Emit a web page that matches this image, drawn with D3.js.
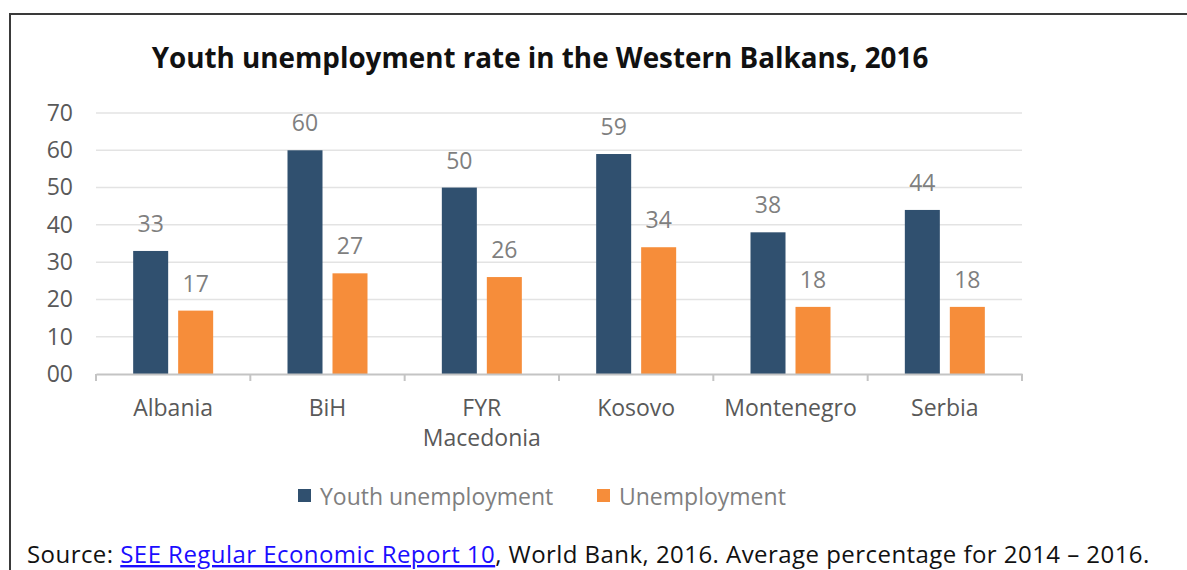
<!DOCTYPE html>
<html>
<head>
<meta charset="utf-8">
<script src="https://cdn.jsdelivr.net/npm/d3@7"></script>
<style>
  body { margin: 0; background: #fff; }
  svg { display: block; }
</style>
</head>
<body>
<div id="chart"></div>
<script>
// data
const categories = ['Albania', 'BiH', 'FYR\nMacedonia', 'Kosovo', 'Montenegro', 'Serbia'];
const seriesNames = ['Youth unemployment', 'Unemployment'];
const youth = [33, 60, 50, 59, 38, 44];
const total = [17, 27, 26, 34, 18, 18];
const yTicks = [0, 10, 20, 30, 40, 50, 60, 70];
const colors = ['#30506f', '#f68d3a'];

const W = 1187, H = 570;
const font = '"Open Sans", Lato, sans-serif';

const svg = d3.select('#chart')
  .append('svg')
  .attr('width', W)
  .attr('height', H);

// frame around the figure
svg.append('path')
  .attr('d', `M10,${H} V14 H${W}`)
  .attr('fill', 'none')
  .attr('stroke', '#3a3a3a')
  .attr('stroke-width', 2);

// title
svg.append('text')
  .attr('x', 540)
  .attr('y', 68)
  .attr('text-anchor', 'middle')
  .attr('font-family', font)
  .attr('font-weight', 'bold')
  .attr('font-size', 27.8)
  .attr('fill', '#111')
  .text('Youth unemployment rate in the Western Balkans, 2016');

const x0 = d3.scaleBand()
  .domain(categories)
  .range([96, 1022])
  .padding(0);

const bw = x0.bandwidth();
const x1 = d3.scaleBand()
  .domain(seriesNames)
  .range([bw / 2 - 40, bw / 2 + 40])
  .paddingInner(0.222);

const y = d3.scaleLinear()
  .domain([0, 70])
  .range([374, 113]);

// gridlines
svg.append('g')
  .selectAll('line')
  .data(yTicks.filter(d => d > 0))
  .join('line')
  .attr('x1', 96)
  .attr('x2', 1022)
  .attr('y1', d => y(d))
  .attr('y2', d => y(d))
  .attr('stroke', '#e3e3e3')
  .attr('stroke-width', 1.5);

// y axis labels
const yAxis = svg.append('g')
  .attr('transform', 'translate(73,0)')
  .call(d3.axisLeft(y).tickValues(yTicks).tickSize(0).tickPadding(0)
    .tickFormat(d => d === 0 ? '00' : d));
yAxis.select('.domain').remove();
yAxis.selectAll('text')
  .attr('font-family', font)
  .attr('font-size', 23)
  .attr('fill', '#595959');

// bars
const groups = svg.append('g')
  .selectAll('g')
  .data(categories.map((c, i) => ({ c, vals: [youth[i], total[i]] })))
  .join('g')
  .attr('transform', d => `translate(${x0(d.c)},0)`);

groups.selectAll('rect')
  .data(d => d.vals.map((v, j) => ({ s: seriesNames[j], v, j })))
  .join('rect')
  .attr('x', d => x1(d.s))
  .attr('width', x1.bandwidth())
  .attr('y', d => y(d.v))
  .attr('height', d => y(0) - y(d.v))
  .attr('fill', d => colors[d.j]);

groups.selectAll('text.val')
  .data(d => d.vals.map((v, j) => ({ s: seriesNames[j], v, j })))
  .join('text')
  .attr('class', 'val')
  .attr('x', d => x1(d.s) + x1.bandwidth() / 2)
  .attr('y', d => y(d.v) - 19)
  .attr('text-anchor', 'middle')
  .attr('font-family', font)
  .attr('font-size', 23)
  .attr('fill', '#7f7f7f')
  .text(d => d.v);

// x axis
const xAxis = svg.append('g')
  .attr('transform', `translate(0,${y(0)})`)
  .call(d3.axisBottom(x0).tickSize(0).tickFormat(''));
xAxis.select('.domain')
  .attr('stroke', '#c4c4c4')
  .attr('stroke-width', 2);

svg.append('g')
  .selectAll('line')
  .data(categories.concat(['end']))
  .join('line')
  .attr('x1', (d, i) => i < categories.length ? x0(d) : x0.range()[1])
  .attr('x2', (d, i) => i < categories.length ? x0(d) : x0.range()[1])
  .attr('y1', y(0))
  .attr('y2', y(0) + 7)
  .attr('stroke', '#c4c4c4')
  .attr('stroke-width', 2);

const catLabels = svg.append('g')
  .selectAll('text')
  .data(categories)
  .join('text')
  .attr('x', d => x0(d) + bw / 2)
  .attr('y', 416)
  .attr('text-anchor', 'middle')
  .attr('font-family', font)
  .attr('font-size', 23)
  .attr('fill', '#595959');
catLabels.each(function (d) {
  const lines = d.split('\n');
  d3.select(this).selectAll('tspan')
    .data(lines)
    .join('tspan')
    .attr('x', x0(d) + bw / 2)
    .attr('dy', (l, i) => i === 0 ? 0 : 30)
    .text(l => l);
});

// legend
const legendX = [298, 597];
const legend = svg.append('g')
  .selectAll('g')
  .data(seriesNames)
  .join('g')
  .attr('transform', (d, i) => `translate(${legendX[i]},489)`);
legend.append('rect')
  .attr('width', 13)
  .attr('height', 13)
  .attr('fill', (d, i) => colors[i]);
legend.append('text')
  .attr('x', 22)
  .attr('y', 16)
  .attr('font-family', font)
  .attr('font-size', 23)
  .attr('fill', '#7f7f7f')
  .text(d => d);

// source note
const src = svg.append('text')
  .attr('x', 27)
  .attr('y', 563)
  .attr('font-family', font)
  .attr('font-size', 24)
  .attr('letter-spacing', 0.45)
  .attr('fill', '#111');
src.append('tspan').text('Source: ');
src.append('tspan')
  .attr('fill', '#1a0dff')
  .attr('text-decoration', 'underline')
  .text('SEE Regular Economic Report 10');
src.append('tspan').text(', World Bank, 2016. Average percentage for 2014 \u2013 2016.');
</script>
</body>
</html>
